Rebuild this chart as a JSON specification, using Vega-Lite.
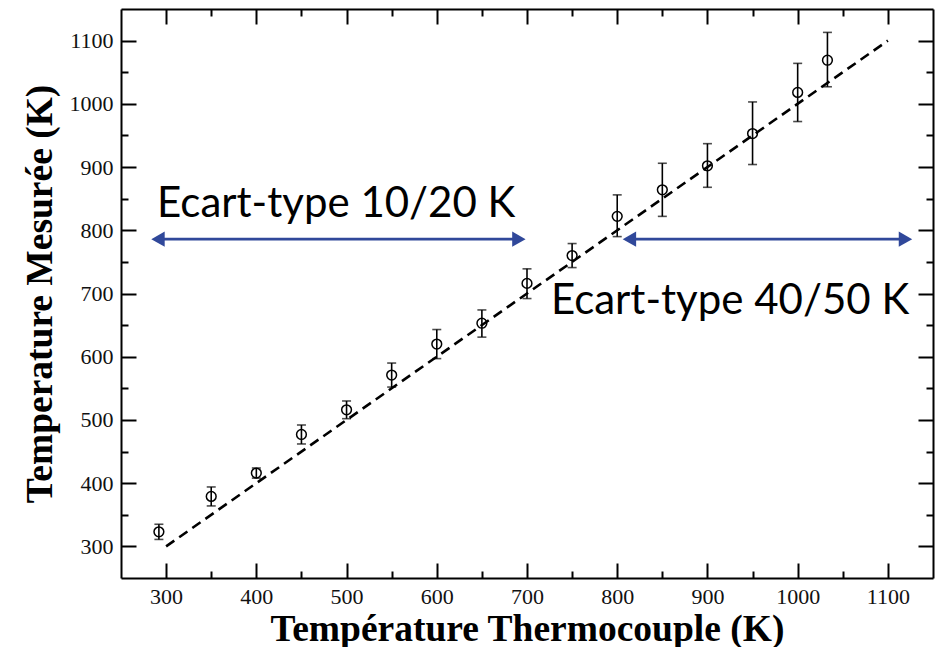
{
  "$schema": "https://vega.github.io/schema/vega-lite/v6.json",
  "width": 812,
  "height": 569,
  "autosize": {"type": "none"},
  "padding": {"left": 121, "top": 9, "right": 8, "bottom": 69},
  "background": "white",
  "config": {
    "view": {"stroke": null},
    "axis": {
      "grid": false,
      "domainColor": "black",
      "domainWidth": 2,
      "tickColor": "black",
      "tickWidth": 2,
      "labelFont": "Liberation Serif",
      "labelFontSize": 22,
      "labelColor": "#111111",
      "titleFont": "Liberation Serif",
      "titleFontSize": 37.5,
      "titleFontWeight": "bold",
      "titleColor": "black"
    }
  },
  "datasets": {
    "mesures": [
      {"t": 292, "m": 323, "lo": 311, "hi": 335},
      {"t": 350, "m": 379, "lo": 364, "hi": 394},
      {"t": 400, "m": 416, "lo": 408, "hi": 424},
      {"t": 450, "m": 477, "lo": 462, "hi": 492},
      {"t": 500, "m": 516, "lo": 502, "hi": 530},
      {"t": 550, "m": 571, "lo": 552, "hi": 590},
      {"t": 600, "m": 620, "lo": 597, "hi": 643},
      {"t": 650, "m": 653, "lo": 631, "hi": 674},
      {"t": 700, "m": 716, "lo": 692, "hi": 739},
      {"t": 750, "m": 760, "lo": 741, "hi": 779},
      {"t": 800, "m": 822, "lo": 790, "hi": 856},
      {"t": 850, "m": 864, "lo": 822, "hi": 906},
      {"t": 900, "m": 902, "lo": 868, "hi": 937},
      {"t": 950, "m": 953, "lo": 904, "hi": 1003},
      {"t": 1000, "m": 1018, "lo": 972, "hi": 1064},
      {"t": 1033, "m": 1069, "lo": 1027, "hi": 1113}
    ],
    "fit": [
      {"t": 300, "m": 300},
      {"t": 1100, "m": 1100}
    ],
    "fleches": [
      {"debut": 291, "fin": 691, "niveau": 786},
      {"debut": 813.5, "fin": 1119.5, "niveau": 786}
    ],
    "pointes": [
      {"t": 291, "m": 786, "sens": "gauche"},
      {"t": 691, "m": 786, "sens": "droite"},
      {"t": 813.5, "m": 786, "sens": "gauche"},
      {"t": 1119.5, "m": 786, "sens": "droite"}
    ],
    "annotations": [
      {"t": 290, "m": 820.5, "texte": "Ecart-type 10/20 K"},
      {"t": 726.5, "m": 667.6, "texte": "Ecart-type 40/50 K"}
    ]
  },
  "resolve": {"axis": {"x": "independent", "y": "independent"}},
  "layer": [
    {
      "data": {"name": "fit"},
      "mark": {"type": "line", "color": "black", "strokeWidth": 2.6, "strokeDash": [10, 6]},
      "encoding": {
        "x": {
          "field": "t", "type": "quantitative",
          "scale": {"domain": [250, 1150], "nice": false, "zero": false},
          "axis": {
            "orient": "bottom",
            "title": "Température Thermocouple (K)",
            "values": [300, 400, 500, 600, 700, 800, 900, 1000, 1100],
            "format": "d",
            "tickSize": -15,
            "labelPadding": 23,
            "labelOverlap": false,
            "labelFlush": false,
            "titlePadding": 3
          }
        },
        "y": {
          "field": "m", "type": "quantitative",
          "scale": {"domain": [250, 1150], "nice": false, "zero": false},
          "axis": {
            "orient": "left",
            "title": "Temperature Mesurée (K)",
            "values": [300, 400, 500, 600, 700, 800, 900, 1000, 1100],
            "format": "d",
            "tickSize": -15,
            "labelPadding": 23,
            "labelOverlap": false,
            "labelFlush": false,
            "titlePadding": 10
          }
        }
      }
    },
    {
      "data": {"name": "mesures"},
      "mark": {"type": "errorbar", "ticks": true, "size": 9, "thickness": 1.6, "color": "black"},
      "encoding": {
        "x": {
          "field": "t", "type": "quantitative",
          "scale": {"domain": [250, 1150], "nice": false, "zero": false},
          "axis": {
            "orient": "bottom", "title": null, "labels": false, "domain": false,
            "values": [350, 450, 550, 650, 750, 850, 950, 1050],
            "tickSize": -7
          }
        },
        "y": {
          "field": "lo", "type": "quantitative",
          "scale": {"domain": [250, 1150], "nice": false, "zero": false},
          "axis": {
            "orient": "left", "title": null, "labels": false, "domain": false,
            "values": [350, 450, 550, 650, 750, 850, 950, 1050],
            "tickSize": -7
          }
        },
        "y2": {"field": "hi"}
      }
    },
    {
      "data": {"name": "mesures"},
      "mark": {"type": "point", "shape": "circle", "filled": false, "size": 95, "strokeWidth": 1.5, "color": "black", "opacity": 1},
      "encoding": {
        "x": {
          "field": "t", "type": "quantitative",
          "scale": {"domain": [250, 1150], "nice": false, "zero": false},
          "axis": {
            "orient": "top", "title": null, "labels": false,
            "values": [300, 400, 500, 600, 700, 800, 900, 1000, 1100],
            "tickSize": -15
          }
        },
        "y": {
          "field": "m", "type": "quantitative",
          "scale": {"domain": [250, 1150], "nice": false, "zero": false},
          "axis": {
            "orient": "right", "title": null, "labels": false,
            "values": [300, 400, 500, 600, 700, 800, 900, 1000, 1100],
            "tickSize": -15
          }
        }
      }
    },
    {
      "data": {"name": "fleches"},
      "mark": {"type": "rule", "color": "#30489A", "strokeWidth": 2.6},
      "encoding": {
        "x": {
          "field": "debut", "type": "quantitative",
          "scale": {"domain": [250, 1150], "nice": false, "zero": false},
          "axis": {
            "orient": "top", "title": null, "labels": false, "domain": false,
            "values": [350, 450, 550, 650, 750, 850, 950, 1050],
            "tickSize": -7
          }
        },
        "x2": {"field": "fin"},
        "y": {
          "field": "niveau", "type": "quantitative",
          "scale": {"domain": [250, 1150], "nice": false, "zero": false},
          "axis": {
            "orient": "right", "title": null, "labels": false, "domain": false,
            "values": [350, 450, 550, 650, 750, 850, 950, 1050],
            "tickSize": -7
          }
        }
      }
    },
    {
      "data": {"name": "pointes"},
      "mark": {"type": "point", "filled": true, "size": 240, "color": "#30489A", "opacity": 1, "strokeWidth": 0},
      "encoding": {
        "x": {"field": "t", "type": "quantitative", "scale": {"domain": [250, 1150], "nice": false, "zero": false}, "axis": null},
        "y": {"field": "m", "type": "quantitative", "scale": {"domain": [250, 1150], "nice": false, "zero": false}, "axis": null},
        "shape": {
          "field": "sens", "type": "nominal",
          "scale": {"domain": ["gauche", "droite"], "range": ["triangle-left", "triangle-right"]},
          "legend": null
        }
      }
    },
    {
      "data": {"name": "annotations"},
      "mark": {"type": "text", "align": "left", "baseline": "alphabetic", "font": "Lato", "fontSize": 42, "color": "black"},
      "encoding": {
        "x": {"field": "t", "type": "quantitative", "scale": {"domain": [250, 1150], "nice": false, "zero": false}, "axis": null},
        "y": {"field": "m", "type": "quantitative", "scale": {"domain": [250, 1150], "nice": false, "zero": false}, "axis": null},
        "text": {"field": "texte"}
      }
    }
  ]
}
